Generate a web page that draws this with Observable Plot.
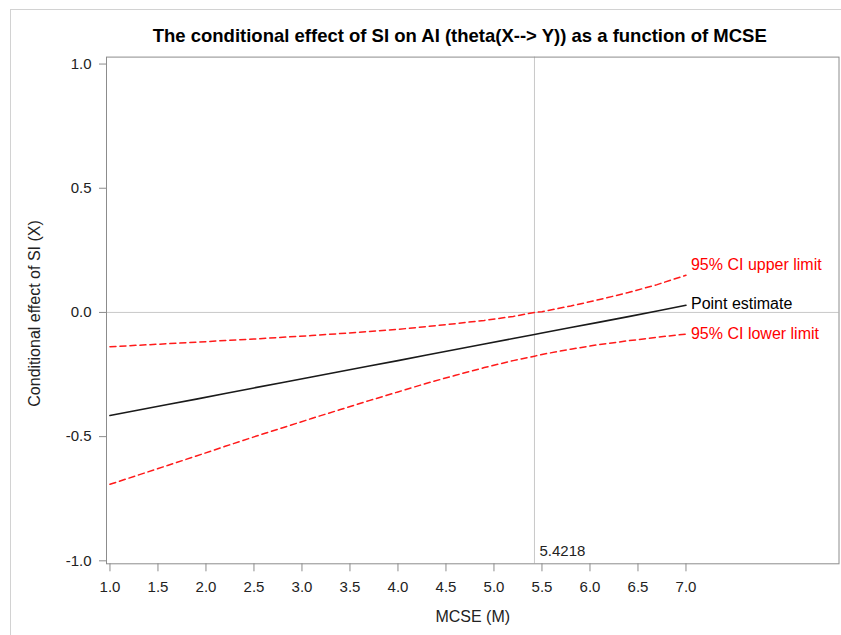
<!DOCTYPE html>
<html>
<head>
<meta charset="utf-8">
<script src="https://cdn.jsdelivr.net/npm/d3@7"></script>
<script src="https://cdn.jsdelivr.net/npm/@observablehq/plot@0.6"></script>
<style>
  html, body { margin: 0; padding: 0; background: white; }
  #wrap { position: relative; width: 841px; height: 635px; overflow: hidden; }
  #border { position: absolute; left: 10px; top: 9px; width: 900px; height: 700px; border: 1px solid #d2d2d2; pointer-events: none; }
</style>
</head>
<body>
<div id="wrap"><div id="chart"></div><div id="border"></div></div>
<script>
// Moderator values (MCSE) and Johnson-Neyman point
const mValues = [1.0, 1.3, 1.6, 1.9, 2.2, 2.5, 2.8, 3.1, 3.4, 3.7, 4.0, 4.3, 4.6, 4.9, 5.2, 5.4218, 5.5, 5.8, 6.1, 6.4, 6.7, 7.0];
const pointEstimate = [-0.415, -0.393, -0.371, -0.349, -0.326, -0.304, -0.282, -0.260, -0.238, -0.216, -0.194, -0.171, -0.149, -0.127, -0.105, -0.089, -0.083, -0.061, -0.039, -0.017, 0.006, 0.029];
const ciUpper = [-0.138, -0.132, -0.126, -0.120, -0.113, -0.107, -0.100, -0.093, -0.085, -0.077, -0.068, -0.057, -0.045, -0.032, -0.016, 0.000, 0.003, 0.026, 0.052, 0.080, 0.112, 0.150];
const ciLower = [-0.692, -0.654, -0.616, -0.578, -0.539, -0.501, -0.464, -0.427, -0.391, -0.355, -0.320, -0.285, -0.253, -0.222, -0.194, -0.176, -0.169, -0.148, -0.129, -0.114, -0.100, -0.087];
const jnPoint = 5.4218;
const xTicks = [1.0, 1.5, 2.0, 2.5, 3.0, 3.5, 4.0, 4.5, 5.0, 5.5, 6.0, 6.5, 7.0];
const yTicks = [-1.0, -0.5, 0.0, 0.5, 1.0];
const titleText = "The conditional effect of SI on AI (theta(X--> Y)) as a function of MCSE";
const xLabel = "MCSE (M)";
const yLabel = "Conditional effect of SI (X)";
const curveLabels = ["95% CI upper limit", "Point estimate", "95% CI lower limit"];

const rows = mValues.map((m, i) => ({m, est: pointEstimate[i], up: ciUpper[i], lo: ciLower[i]}));
const last = rows[rows.length - 1];
const FONT = "'Liberation Sans', Arial, sans-serif";

const chart = Plot.plot({
  width: 841,
  height: 635,
  marginLeft: 106,
  marginRight: 2.5,
  marginTop: 56.6,
  marginBottom: 71.7,
  style: {fontFamily: FONT, background: "white", color: "#222"},
  x: {domain: [0.964, 8.594]},
  y: {domain: [-1.012, 1.028]},
  marks: [
    Plot.ruleY([0], {stroke: "#c8c8c8", strokeWidth: 1}),
    Plot.ruleX([jnPoint], {stroke: "#c8c8c8", strokeWidth: 1}),
    Plot.frame({stroke: "#8c8c8c", strokeWidth: 1}),
    Plot.axisX({ticks: xTicks, tickFormat: d => d.toFixed(1), tickSize: 8, tickPadding: 10, fontSize: 15, stroke: "#8c8c8c", fill: "#222", label: null}),
    Plot.axisY({ticks: yTicks, tickFormat: d => d.toFixed(1), tickSize: 7, tickPadding: 8, fontSize: 15, stroke: "#8c8c8c", fill: "#222", label: null}),
    Plot.line(rows, {x: "m", y: "up", stroke: "#ff1a1a", strokeWidth: 1.5, strokeDasharray: "6,4"}),
    Plot.line(rows, {x: "m", y: "lo", stroke: "#ff1a1a", strokeWidth: 1.5, strokeDasharray: "6,4"}),
    Plot.line(rows, {x: "m", y: "est", stroke: "#1a1a1a", strokeWidth: 1.6}),
    Plot.text([last], {x: "m", y: "up", text: () => curveLabels[0], textAnchor: "start", lineAnchor: "middle", dx: 5, dy: -10.3, fill: "#ff0000", fontSize: 16}),
    Plot.text([last], {x: "m", y: "est", text: () => curveLabels[1], textAnchor: "start", lineAnchor: "middle", dx: 5, dy: -1.3, fill: "#000", fontSize: 16}),
    Plot.text([last], {x: "m", y: "lo", text: () => curveLabels[2], textAnchor: "start", lineAnchor: "middle", dx: 5, dy: 0, fill: "#ff0000", fontSize: 16}),
    Plot.text([jnPoint], {x: d => d, text: d => d.toFixed(4), frameAnchor: "bottom", textAnchor: "start", lineAnchor: "middle", dx: 5, dy: -12.8, fill: "#222", fontSize: 15}),
    Plot.text([titleText], {text: d => d, frameAnchor: "top", textAnchor: "middle", lineAnchor: "middle", dx: -13, dy: -20.8, fontSize: 18.5, fontWeight: "bold", fill: "#000"}),
    Plot.text([xLabel], {text: d => d, frameAnchor: "bottom", textAnchor: "middle", lineAnchor: "middle", dy: 52.6, fontSize: 16, fill: "#222"}),
    Plot.text([yLabel], {text: d => d, frameAnchor: "left", textAnchor: "middle", lineAnchor: "middle", rotate: -90, dx: -72, dy: 3, fontSize: 16, fill: "#222"})
  ]
});
document.getElementById("chart").appendChild(chart);
</script>
</body>
</html>
